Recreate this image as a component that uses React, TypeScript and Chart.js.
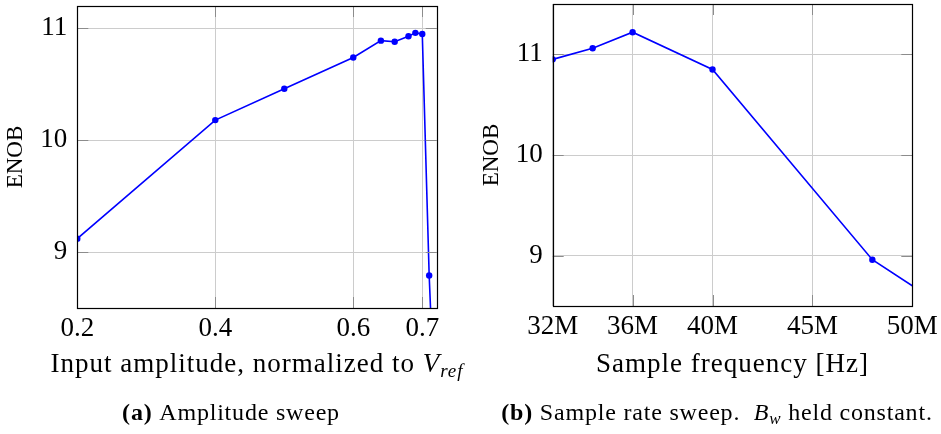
import React, { useEffect, useRef } from 'react';
import { Chart, registerables } from 'chart.js';

Chart.register(...registerables);

// ---- data ----
const ampX = [0.2, 0.4, 0.5, 0.6, 0.64, 0.66, 0.68, 0.69, 0.7, 0.71, 0.72];
const ampEnob = [9.12, 10.18, 10.46, 10.74, 10.89, 10.88, 10.93, 10.96, 10.95, 8.79, 7.3];
const ampTicks = [0.2, 0.4, 0.6, 0.7];

const freqX = [32e6, 34e6, 36e6, 40e6, 48e6, 56e6];
const freqEnob = [10.95, 11.06, 11.22, 10.85, 8.96, 7.92];
const freqTicks = [32e6, 36e6, 40e6, 45e6, 50e6];

const enobTicks = [9, 10, 11];

const FONT = "'Liberation Serif', 'Times New Roman', serif";
const TICK_SIZE = 27;
const TITLE_SIZE = 27;
const CAP_SIZE = 24;

type Seg = { t: string; font: string; dy?: number };

function drawRich(ctx: CanvasRenderingContext2D, segs: Seg[], cx: number, baseline: number, spacing: number) {
  const c: any = ctx;
  c.letterSpacing = `${spacing}px`;
  let w = 0;
  for (const s of segs) {
    ctx.font = s.font;
    w += ctx.measureText(s.t).width;
  }
  let x = cx - w / 2;
  ctx.textAlign = 'left';
  ctx.textBaseline = 'alphabetic';
  ctx.fillStyle = '#000';
  for (const s of segs) {
    ctx.font = s.font;
    ctx.fillText(s.t, x, baseline + (s.dy || 0));
    x += ctx.measureText(s.t).width;
  }
  c.letterSpacing = '0px';
}

interface PanelCfg {
  xs: number[];
  ys: number[];
  xTicks: number[];
  xMin: number;
  xMax: number;
  yMin: number;
  yMax: number;
  xLabel: (v: number) => string;
  padTop: number;
  padLeft: number;
  padRight: number;
  yWidth: number;
  xHeight: number;
  titleSegs: Seg[];
  captionSegs: Seg[];
  captionX: number;
  titleBaseline: number;
  captionBaseline: number;
}

function makeChart(canvas: HTMLCanvasElement, c: PanelCfg) {
  const framePlugin = {
    id: 'frame',
    afterDraw(chart: any) {
      const ctx = chart.ctx as CanvasRenderingContext2D;
      const a = chart.chartArea;
      const xs = chart.scales.x;
      const ys = chart.scales.y;
      ctx.save();
      // inner tick marks
      ctx.strokeStyle = '#8c8c8c';
      ctx.lineWidth = 1;
      const L = 11;
      ctx.beginPath();
      for (const v of c.xTicks) {
        const px = Math.round(xs.getPixelForValue(v)) + 0.5;
        ctx.moveTo(px, a.bottom);
        ctx.lineTo(px, a.bottom - L);
        ctx.moveTo(px, a.top);
        ctx.lineTo(px, a.top + L);
      }
      for (const v of enobTicks) {
        const py = Math.round(ys.getPixelForValue(v)) + 0.5;
        ctx.moveTo(a.left, py);
        ctx.lineTo(a.left + L, py);
        ctx.moveTo(a.right, py);
        ctx.lineTo(a.right - L, py);
      }
      ctx.stroke();
      // frame
      ctx.strokeStyle = '#000';
      ctx.lineWidth = 1.2;
      ctx.strokeRect(Math.round(a.left) + 0.5, Math.round(a.top) + 0.5,
        Math.round(a.right) - Math.round(a.left), Math.round(a.bottom) - Math.round(a.top));
      // x title and caption
      const cx = (a.left + a.right) / 2;
      drawRich(ctx, c.titleSegs, cx, c.titleBaseline, 1);
      drawRich(ctx, c.captionSegs, c.captionX, c.captionBaseline, 0.8);
      ctx.restore();
    },
  };

  return new Chart(canvas, {
    type: 'line',
    data: {
      datasets: [
        {
          data: c.xs.map((x, i) => ({ x, y: c.ys[i] })),
          borderColor: '#0000ff',
          backgroundColor: '#0000ff',
          borderWidth: 1.6,
          pointRadius: 3.2,
          pointBorderWidth: 0,
          pointBackgroundColor: '#0000ff',
          tension: 0,
          fill: false,
        },
      ],
    },
    options: {
      responsive: false,
      animation: false,
      events: [],
      layout: { padding: { top: c.padTop, left: c.padLeft, right: c.padRight, bottom: 0 } },
      plugins: {
        legend: { display: false },
        tooltip: { enabled: false },
        title: { display: false },
      },
      scales: {
        x: {
          type: 'linear',
          min: c.xMin,
          max: c.xMax,
          afterBuildTicks: (s: any) => {
            s.ticks = c.xTicks.map((v) => ({ value: v }));
          },
          afterFit: (s: any) => {
            s.height = c.xHeight;
            s.paddingLeft = 0;
            s.paddingRight = 0;
            s.paddingTop = 0;
            s.paddingBottom = 0;
          },
          ticks: {
            autoSkip: false,
            maxRotation: 0,
            padding: 5,
            color: '#000',
            font: { family: FONT, size: TICK_SIZE },
            callback: (v: any) => c.xLabel(Number(v)),
          },
          grid: { color: '#cccccc', lineWidth: 1, drawTicks: false },
          border: { display: false },
        },
        y: {
          type: 'linear',
          min: c.yMin,
          max: c.yMax,
          afterBuildTicks: (s: any) => {
            s.ticks = enobTicks.map((v) => ({ value: v }));
          },
          afterFit: (s: any) => {
            s.width = c.yWidth;
            s.paddingLeft = 0;
            s.paddingRight = 0;
            s.paddingTop = 0;
            s.paddingBottom = 0;
          },
          ticks: {
            padding: 10,
            color: '#000',
            font: { family: FONT, size: TICK_SIZE },
            callback: (v: any) => String(v),
          },
          title: {
            display: true,
            text: 'ENOB',
            color: '#000',
            font: { family: FONT, size: 23 },
            padding: { top: 2, bottom: 2 },
          },
          grid: { color: '#cccccc', lineWidth: 1, drawTicks: false },
          border: { display: false },
        },
      },
    },
    plugins: [framePlugin],
  } as any);
}

const f = (style: string, size: number) => `${style} ${size}px ${FONT}`;

function Panel({ cfg, left, width }: { cfg: PanelCfg; left: number; width: number }) {
  const ref = useRef<HTMLCanvasElement | null>(null);
  useEffect(() => {
    if (!ref.current) return;
    const ch = makeChart(ref.current, cfg);
    return () => ch.destroy();
  }, []);
  return (
    <canvas
      ref={ref}
      width={width}
      height={434}
      style={{ position: 'absolute', left, top: 0, width, height: 434 }}
    />
  );
}

const leftCfg: PanelCfg = {
  xs: ampX,
  ys: ampEnob,
  xTicks: ampTicks,
  xMin: 0.2,
  xMax: 0.7209,
  yMin: 8.5,
  yMax: 11.2,
  xLabel: (v) => v.toFixed(1),
  padTop: 6,
  padLeft: 0,
  padRight: 33.3,
  yWidth: 77.3,
  xHeight: 126,
  titleSegs: [
    { t: 'Input amplitude, normalized to ', font: f('normal', TITLE_SIZE) },
    { t: 'V', font: f('italic', TITLE_SIZE) },
    { t: 'ref', font: f('italic', 19), dy: 5 },
  ],
  captionSegs: [
    { t: '(a)', font: f('bold', CAP_SIZE) },
    { t: ' Amplitude sweep', font: f('normal', CAP_SIZE) },
  ],
  captionX: 231,
  titleBaseline: 372,
  captionBaseline: 420,
};

const rightCfg: PanelCfg = {
  xs: freqX,
  ys: freqEnob,
  xTicks: freqTicks,
  xMin: 32e6,
  xMax: 50e6,
  yMin: 8.5,
  yMax: 11.5,
  xLabel: (v) => `${Math.round(v / 1e6)}M`,
  padTop: 4,
  padLeft: 6,
  padRight: 28.7,
  yWidth: 76.7,
  xHeight: 128,
  titleSegs: [{ t: 'Sample frequency [Hz]', font: f('normal', TITLE_SIZE) }],
  captionSegs: [
    { t: '(b)', font: f('bold', CAP_SIZE) },
    { t: ' Sample rate sweep.  ', font: f('normal', CAP_SIZE) },
    { t: 'B', font: f('italic', CAP_SIZE) },
    { t: 'w', font: f('italic', 17), dy: 4 },
    { t: ' held constant.', font: f('normal', CAP_SIZE) },
  ],
  captionX: 247,
  titleBaseline: 372,
  captionBaseline: 420,
};

export default function App() {
  return (
    <div style={{ position: 'absolute', left: 0, top: 0, width: 941, height: 434, background: '#fff' }}>
      <Panel cfg={leftCfg} left={0} width={470} />
      <Panel cfg={rightCfg} left={470} width={471} />
    </div>
  );
}
